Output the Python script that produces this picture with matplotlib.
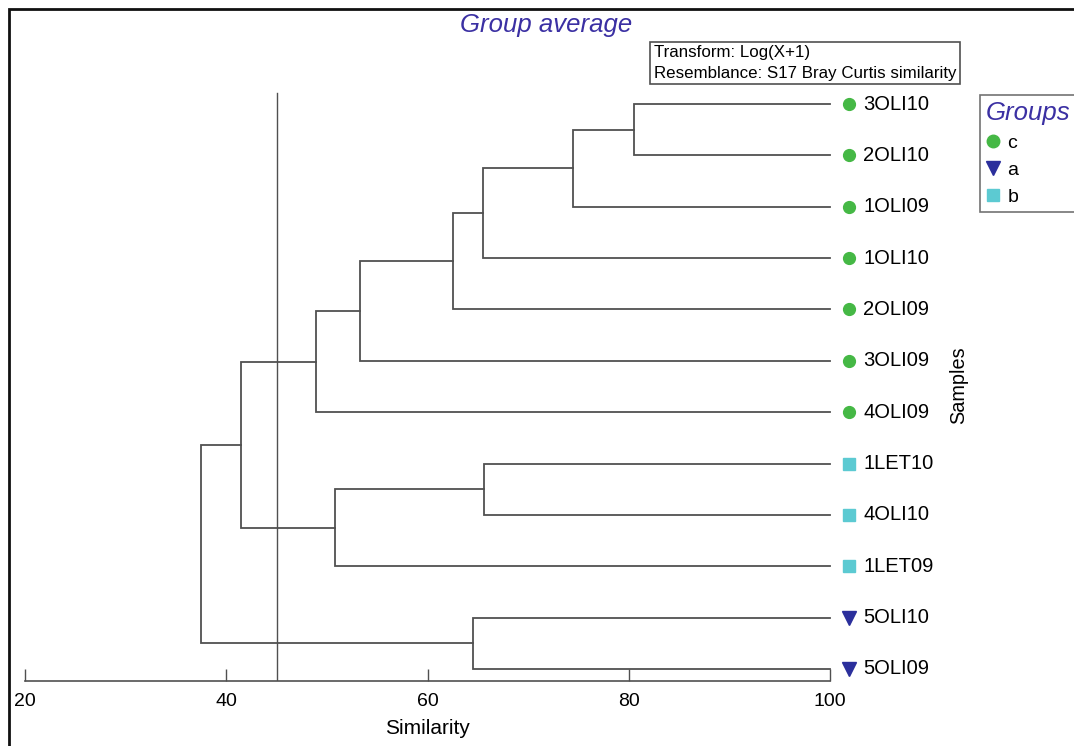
import matplotlib
matplotlib.use("Agg")
import matplotlib.pyplot as plt
from matplotlib.lines import Line2D
from matplotlib.patches import Rectangle

# Samples in dendrogram order (top to bottom) and their groups
samples = ['3OLI10', '2OLI10', '1OLI09', '1OLI10', '2OLI09', '3OLI09',
           '4OLI09', '1LET10', '4OLI10', '1LET09', '5OLI10', '5OLI09']
sample_groups = ['c', 'c', 'c', 'c', 'c', 'c', 'c', 'b', 'b', 'b', 'a', 'a']

# Group-average linkage: (left child, right child, similarity %)
# leaves are 0..11, new clusters get ids 12, 13, ...
merge_left = [0, 12, 13, 14, 15, 16, 7, 18, 17, 10, 20]
merge_right = [1, 2, 3, 4, 5, 6, 8, 9, 19, 11, 21]
merge_similarity = [80.5, 74.5, 65.5, 62.5, 53.3, 48.9, 65.6, 50.8, 41.5, 64.5, 37.5]

cut_level = 45.0
x_ticks = [20, 40, 60, 80, 100]

group_names = ['c', 'a', 'b']
group_markers = {'c': 'o', 'a': 'v', 'b': 's'}
group_colors = {'c': '#45b845', 'a': '#2b2f9c', 'b': '#5ccad2'}

W, H = 1074, 746
fig = plt.figure(figsize=(W / 100, H / 100), dpi=100)
fig.patch.set_facecolor('white')
plt.rcParams['font.family'] = ['Liberation Sans', 'DejaVu Sans']

line_col = '#505050'
title_col = '#3b30a3'
label_fs = 14.5

# Dendrogram axes: x spans 20..100 similarity, bottom spine is the scale
ax = fig.add_axes([25 / W, (H - 681) / H, 805 / W, (681 - 60) / H])
row_top, row_bottom = -0.857, 11.234
ax.set_xlim(20, 100)
ax.set_ylim(row_bottom, row_top)
for side in ['top', 'right', 'left']:
    ax.spines[side].set_visible(False)
ax.spines['bottom'].set_color(line_col)
ax.spines['bottom'].set_linewidth(1.2)
ax.set_yticks([])
ax.set_xticks(x_ticks)
ax.set_xticklabels([str(t) for t in x_ticks], fontsize=14)
ax.tick_params(axis='x', direction='in', length=9, width=1, color=line_col, pad=9)
ax.set_xlabel('Similarity', fontsize=15, labelpad=6)
ax.patch.set_alpha(0)

n = len(samples)


def draw_node(node):
    if node < n:
        return float(node), 100.0
    k = node - n
    ly, lx = draw_node(merge_left[k])
    ry, rx = draw_node(merge_right[k])
    s = merge_similarity[k]
    ax.plot([lx, s, s, rx], [ly, ly, ry, ry], color=line_col, lw=1.3,
            solid_joinstyle='miter', clip_on=False)
    return (ly + ry) / 2, s


draw_node(n + len(merge_left) - 1)

# Similarity cut line
ax.axvline(cut_level, ymin=0, ymax=(681 - 93) / (681 - 60), color=line_col, lw=1.0)

# Leaf markers and labels
for i, (name, g) in enumerate(zip(samples, sample_groups)):
    ax.plot(101.9, i, marker=group_markers[g], color=group_colors[g],
            markersize=8.5 if g != 'a' else 10, clip_on=False, linestyle='none')
    ax.text(103.3, i, name, fontsize=label_fs, va='center', ha='left', clip_on=False)

ax.text(112.8, 5.47, 'Samples', rotation=90, fontsize=14.3, va='center', ha='center')

# Title
fig.text(546 / W, 1 - 25 / H, 'Group average', fontsize=18.5, style='italic',
         color=title_col, ha='center', va='center')

# Transform / resemblance note
fig.text(654 / W, 1 - 63 / H, 'Transform: Log(X+1)\nResemblance: S17 Bray Curtis similarity',
         fontsize=12.2, ha='left', va='center', linespacing=1.45,
         bbox=dict(boxstyle='square,pad=0.22', facecolor='white', edgecolor=line_col, lw=1.2))

# Groups legend
handles = [Line2D([], [], marker=group_markers[g], color=group_colors[g], linestyle='none',
                  markersize=9 if g != 'a' else 10.5) for g in group_names]
leg = fig.legend(handles, group_names, loc='upper left', bbox_to_anchor=(980 / W, 1 - 95 / H),
                 frameon=True, fancybox=False, edgecolor=line_col, fontsize=14,
                 handlelength=0.7, handletextpad=0.4, labelspacing=0.48,
                 borderpad=0.3, borderaxespad=0, title='Groups', alignment='left')
leg.get_frame().set_linewidth(1.2)
leg.get_title().set_fontsize(18.5)
leg.get_title().set_style('italic')
leg.get_title().set_color(title_col)

# Outer frame
fig.patches.append(Rectangle((9 / W, -0.1), 1.2, (1 - 9 / H) + 0.1, transform=fig.transFigure,
                             fill=False, edgecolor='#111111', lw=2))

fig.savefig('out.png', dpi=100, facecolor='white')
